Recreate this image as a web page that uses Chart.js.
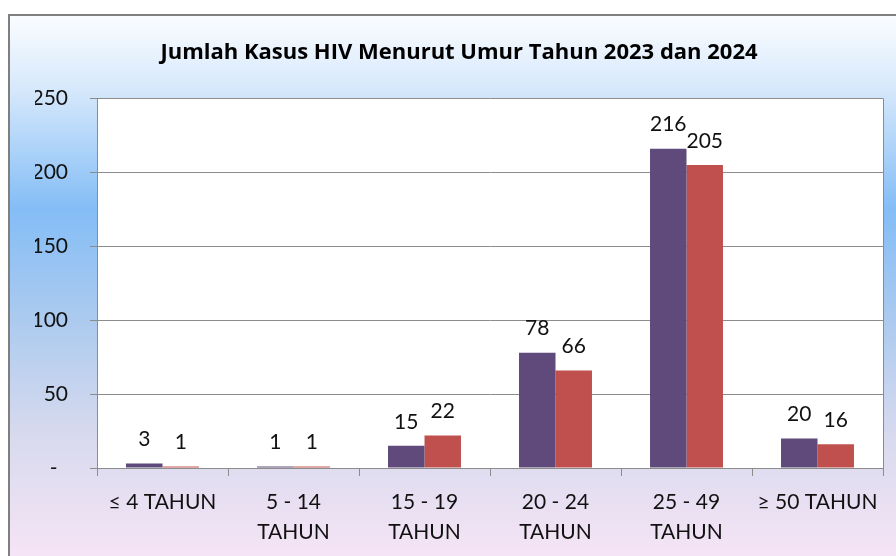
<!DOCTYPE html>
<html>
<head>
<meta charset="utf-8">
<script src="https://cdn.jsdelivr.net/npm/chart.js@4.4.1/dist/chart.umd.min.js"></script>
<style>
  html, body { margin: 0; padding: 0; background: #ffffff; }
  #wrap { position: absolute; left: 0; top: 0; width: 896px; height: 556px; }
</style>
</head>
<body>
<div id="wrap"><canvas id="c" width="896" height="556"></canvas></div>
<script>
const chartTitle = 'Jumlah Kasus HIV Menurut Umur Tahun 2023 dan 2024';
const categories = [['≤ 4 TAHUN'], ['5 - 14', 'TAHUN'], ['15 - 19', 'TAHUN'], ['20 - 24', 'TAHUN'], ['25 - 49', 'TAHUN'], ['≥ 50 TAHUN']];
const seriesNames = ['2023', '2024'];
const values2023 = [3, 1, 15, 78, 216, 20];
const values2024 = [1, 1, 22, 66, 205, 16];
const yTicks = [0, 50, 100, 150, 200, 250];

const FONT = "Lato, 'Open Sans', 'Liberation Sans', sans-serif";
const TITLE_FONT = "'Open Sans', 'Noto Sans', sans-serif";

const bgPlugin = {
  id: 'bg',
  beforeDraw(chart) {
    const ctx = chart.ctx;
    ctx.save();
    const g = ctx.createLinearGradient(0, 14, 0, 556);
    g.addColorStop(0, '#fbfdff');
    g.addColorStop(0.14, '#d6e8fb');
    g.addColorStop(0.36, '#84bdf6');
    g.addColorStop(0.56, '#abcaef');
    g.addColorStop(0.78, '#d8daee');
    g.addColorStop(1, '#f5e4f5');
    ctx.fillStyle = g;
    ctx.fillRect(8, 14, 888, 542);
    ctx.strokeStyle = '#7f7f7f';
    ctx.lineWidth = 2;
    ctx.beginPath();
    ctx.moveTo(9, 556);
    ctx.lineTo(9, 15);
    ctx.lineTo(896, 15);
    ctx.stroke();
    const a = chart.chartArea;
    ctx.fillStyle = '#ffffff';
    ctx.fillRect(a.left, a.top, a.right - a.left, a.bottom - a.top);
    ctx.restore();
  },
  afterDatasetsDraw(chart) {
    const ctx = chart.ctx;
    const a = chart.chartArea;
    ctx.save();
    ctx.strokeStyle = '#8c8c8c';
    ctx.lineWidth = 1;
    ctx.beginPath();
    ctx.moveTo(Math.round(a.right) + 0.5, a.top);
    ctx.lineTo(Math.round(a.right) + 0.5, a.bottom);
    ctx.stroke();
    ctx.font = '21px ' + FONT;
    ctx.fillStyle = '#111111';
    ctx.textAlign = 'center';
    ctx.textBaseline = 'middle';
    chart.data.datasets.forEach((ds, di) => {
      const meta = chart.getDatasetMeta(di);
      meta.data.forEach((bar, i) => {
        ctx.fillText(String(ds.data[i]), bar.x, bar.y - 24);
      });
    });
    ctx.restore();
  }
};

new Chart(document.getElementById('c'), {
  type: 'bar',
  data: {
    labels: categories,
    datasets: [
      { label: seriesNames[0], data: values2023, backgroundColor: '#5f4a7b', borderWidth: 0 },
      { label: seriesNames[1], data: values2024, backgroundColor: '#c0504d', borderWidth: 0 }
    ]
  },
  options: {
    responsive: false,
    animation: false,
    layout: { padding: { left: 35, right: 13, top: 0, bottom: 0 } },
    datasets: { bar: { categoryPercentage: 0.557, barPercentage: 1.0 } },
    plugins: {
      legend: { display: false },
      tooltip: { enabled: false },
      title: {
        display: true,
        text: chartTitle,
        color: '#000000',
        font: { family: TITLE_FONT, size: 22, weight: 'bold', lineHeight: 1.2 },
        padding: { top: 40, bottom: 32 }
      }
    },
    scales: {
      x: {
        grid: { offset: true, drawOnChartArea: false, drawTicks: true, tickLength: 8, color: '#8c8c8c' },
        border: { display: true, color: '#8c8c8c' },
        ticks: { color: '#111111', font: { family: FONT, size: 21, lineHeight: 1.45 }, padding: 11, maxRotation: 0, autoSkip: false },
        afterFit(scale) { scale.height = 88; }
      },
      y: {
        min: 0, max: 250,
        afterBuildTicks(scale) { scale.ticks = yTicks.map(v => ({ value: v })); },
        grid: { color: '#8c8c8c', tickLength: 7, drawTicks: true },
        border: { display: true, color: '#8c8c8c' },
        ticks: {
          color: '#111111',
          font: { family: FONT, size: 21 },
          padding: 22,
          callback: v => v === 0 ? '-\u2002' : String(v)
        },
        afterFit(scale) { scale.width = 62; }
      }
    }
  },
  plugins: [bgPlugin]
});
</script>
</body>
</html>
